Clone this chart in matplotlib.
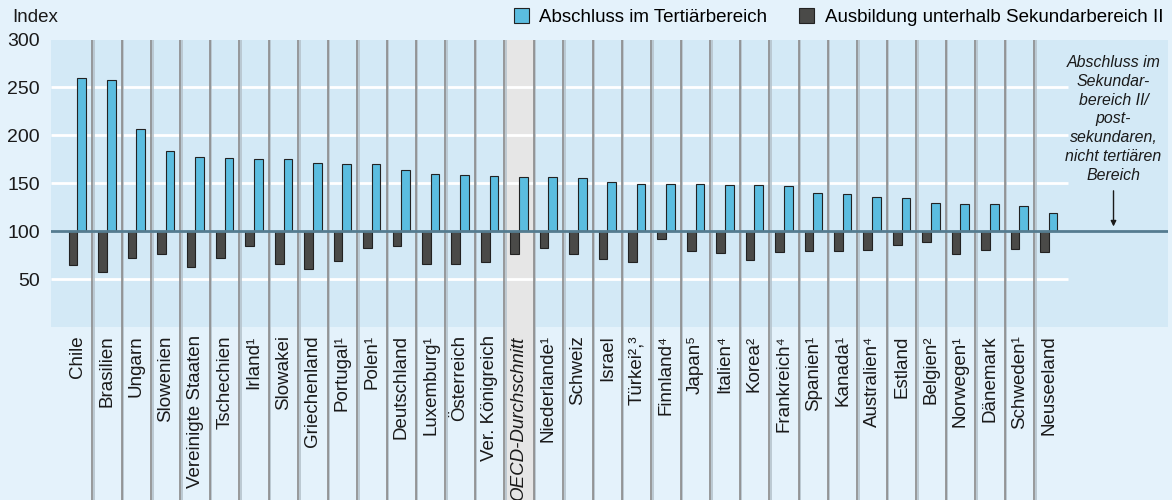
import numpy as np
import matplotlib
matplotlib.use("Agg")
import matplotlib.pyplot as plt
from matplotlib.patches import Patch, Rectangle

plt.rcParams['font.family'] = ['Liberation Sans', 'DejaVu Sans']

countries = ["Chile", "Brasilien", "Ungarn", "Slowenien", "Vereinigte Staaten",
             "Tschechien", "Irland¹", "Slowakei", "Griechenland", "Portugal¹",
             "Polen¹", "Deutschland", "Luxemburg¹", "Österreich", "Ver. Königreich",
             "OECD-Durchschnitt", "Niederlande¹", "Schweiz", "Israel", "Türkei²,³",
             "Finnland⁴", "Japan⁵", "Italien⁴", "Korea²", "Frankreich⁴",
             "Spanien¹", "Kanada¹", "Australien⁴", "Estland", "Belgien²",
             "Norwegen¹", "Dänemark", "Schweden¹", "Neuseeland"]
tertiaer = [260, 258, 207, 184, 177, 176, 175, 175, 171, 170,
            170, 164, 160, 159, 158, 157, 157, 156, 151, 149,
            149, 149, 148, 148, 147, 140, 139, 136, 135, 129,
            128, 128, 126, 119]
unterhalb = [65, 57, 72, 76, 63, 72, 85, 66, 61, 69,
             82, 85, 66, 66, 68, 76, 82, 76, 71, 68,
             92, 79, 77, 70, 78, 79, 79, 80, 86, 89,
             76, 80, 81, 78]
oecd_name = "OECD-Durchschnitt"

c_fig = "#e4f2fb"
c_ax = "#d3e9f6"
c_blue = "#5bbde0"
c_dark = "#4a4a48"
c_oecd = "#e6e6e6"

fig = plt.figure(figsize=(11.72, 5), dpi=100, facecolor=c_fig)
ax = fig.add_axes([0.0435, 0.346, 0.9528, 0.575], facecolor=c_ax)

x = np.arange(len(countries))
w = 0.295
n = len(countries)

# grey column for OECD average, running down through the label area
oi = countries.index(oecd_name)
ax.add_patch(Rectangle((oi - 0.5, -181), 1, 481, facecolor=c_oecd,
                       edgecolor="none", zorder=0.5, clip_on=False))

# white gridlines
ax.hlines([50, 150, 200, 250], -0.9, n - 0.35, color="white", lw=2, zorder=1)

# column separators (line + faint shadow)
ax.vlines(x[:-1] + 0.55, -181, 300, color="#b5c3cc", lw=1.2, zorder=2, clip_on=False)
ax.vlines(x[:-1] + 0.5, -181, 300, color="#8a8a8a", lw=1.2, zorder=2, clip_on=False)

ax.bar(x - w / 2, np.array(unterhalb) - 100, bottom=100, width=w, color=c_dark,
       edgecolor="#222222", lw=0.8, zorder=3)
ax.bar(x + w / 2, np.array(tertiaer) - 100, bottom=100, width=w, color=c_blue,
       edgecolor="#222222", lw=0.8, zorder=3)

ax.axhline(100, color="#557c90", lw=2, zorder=4)

ax.set_xlim(-0.9, 37.04)
ax.set_ylim(0, 300)
ax.set_yticks([50, 100, 150, 200, 250, 300])
ax.set_xticks(x)
ax.set_xticklabels(countries, rotation=90, va="top", ha="center", fontsize=13.5,
                   color="#1a1a1a")
for lab in ax.get_xticklabels():
    if lab.get_text() == oecd_name:
        lab.set_style("italic")
ax.tick_params(axis="x", length=0, pad=6)
ax.tick_params(axis="y", length=0, pad=8, labelsize=14, labelcolor="#1a1a1a")
for s in ax.spines.values():
    s.set_visible(False)

ax.text(35.2, 284, "Abschluss im\nSekundar-\nbereich II/\npost-\nsekundaren,\nnicht tertiären\nBereich",
        ha="center", va="top", style="italic", fontsize=11.4, linespacing=1.32,
        color="#1a1a1a", zorder=5)
ax.annotate("", xy=(35.2, 102), xytext=(35.2, 145),
            arrowprops=dict(arrowstyle="-|>", color="#1a1a1a", lw=1,
                            mutation_scale=8))

fig.text(0.0105, 0.966, "Index", ha="left", va="center", fontsize=13.5, color="#1a1a1a")

handles = [Patch(facecolor=c_blue, edgecolor="#222222", lw=0.8),
           Patch(facecolor=c_dark, edgecolor="#222222", lw=0.8)]
fig.legend(handles, ["Abschluss im Tertiärbereich", "Ausbildung unterhalb Sekundarbereich II"],
           loc="center right", bbox_to_anchor=(0.9925, 0.966), ncol=2, frameon=False,
           fontsize=13.5, handlelength=0.8, handleheight=0.8, handletextpad=0.55,
           columnspacing=1.7, borderpad=0, borderaxespad=0)

fig.savefig("out.png", dpi=100, facecolor=c_fig)
